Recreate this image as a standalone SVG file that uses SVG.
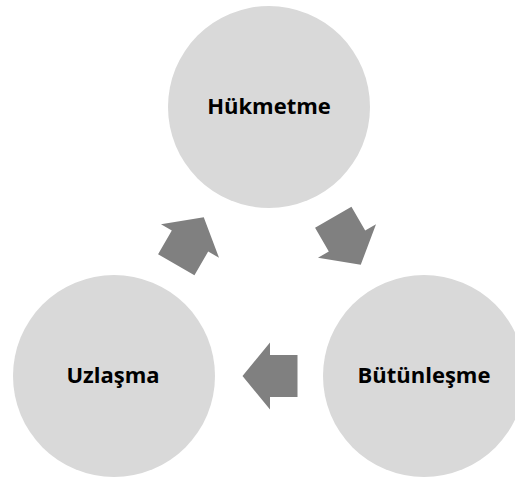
<svg xmlns="http://www.w3.org/2000/svg" width="515" height="480" viewBox="0 0 515 480">
  <style>
    .node { fill: #d9d9d9; }
    .label { font-family: "Open Sans", "Liberation Sans", sans-serif; font-weight: bold; font-size: 22px; fill: #000; text-anchor: middle; }
    .arrow { fill: #808080; }
  </style>
  <defs>
    <!-- block arrow pointing +x, origin at the back of the head -->
    <polygon id="blockArrow" points="27.5,0 0,33.5 0,21 -27.5,21 -27.5,-21 0,-21 0,-33.5"/>
  </defs>
  <rect width="515" height="480" fill="#ffffff"/>

  <g id="hukmetme">
    <circle class="node" cx="269" cy="107" r="101"/>
    <text class="label" x="269" y="114">Hükmetme</text>
  </g>
  <g id="butunlesme">
    <circle class="node" cx="424" cy="376" r="101"/>
    <text class="label" x="424" y="383">Bütünleşme</text>
  </g>
  <g id="uzlasma">
    <circle class="node" cx="114" cy="376" r="101"/>
    <text class="label" x="113" y="383">Uzlaşma</text>
  </g>

  <g id="connectors" class="arrow">
    <use href="#blockArrow" transform="translate(347,241) rotate(60)"/>
    <use href="#blockArrow" transform="translate(270,376) rotate(180)"/>
    <use href="#blockArrow" transform="translate(190,241) rotate(-60)"/>
  </g>
</svg>
